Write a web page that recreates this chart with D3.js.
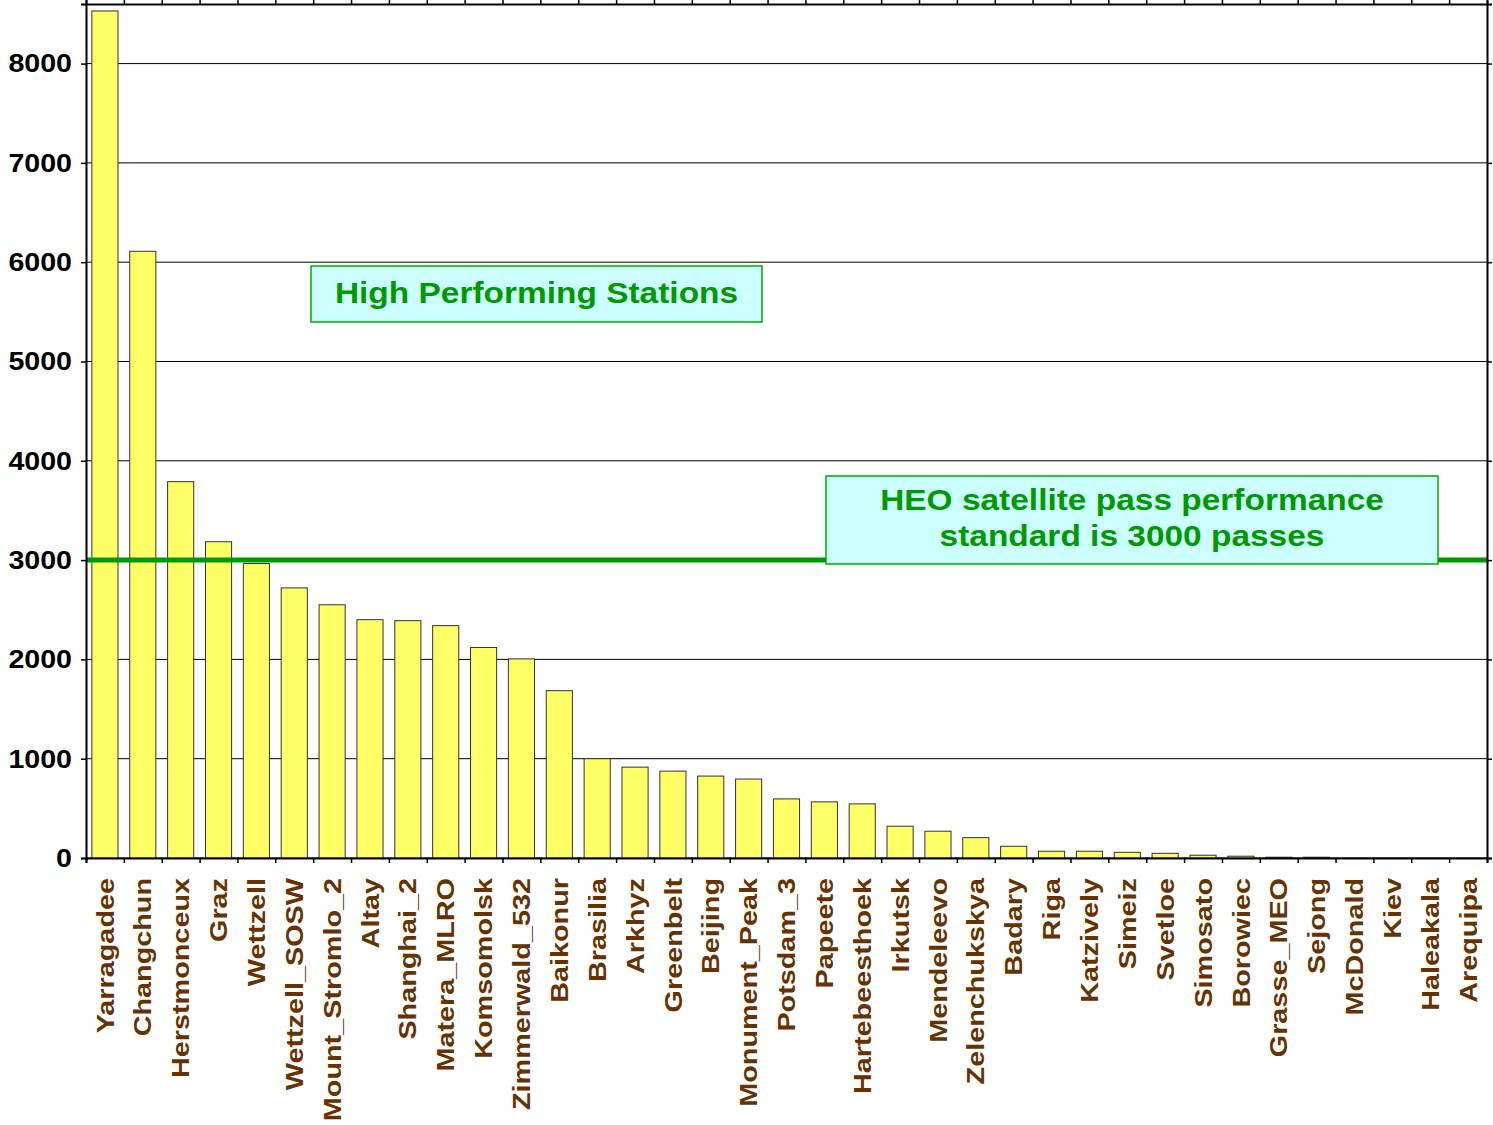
<!DOCTYPE html>
<html>
<head>
<meta charset="utf-8">
<script src="https://cdn.jsdelivr.net/npm/d3@7"></script>
<style>
  body { margin: 0; background: #fff; }
  svg { display: block; font-family: "Liberation Sans", Arial, Helvetica, sans-serif; }
</style>
</head>
<body>
<div id="container"></div>
<script>
/* DATA */
const stations = ["Yarragadee","Changchun","Herstmonceux","Graz","Wettzell","Wettzell_SOSW",
  "Mount_Stromlo_2","Altay","Shanghai_2","Matera_MLRO","Komsomolsk","Zimmerwald_532",
  "Baikonur","Brasilia","Arkhyz","Greenbelt","Beijing","Monument_Peak","Potsdam_3",
  "Papeete","Hartebeesthoek","Irkutsk","Mendeleevo","Zelenchukskya","Badary","Riga",
  "Katzively","Simeiz","Svetloe","Simosato","Borowiec","Grasse_MEO","Sejong","McDonald",
  "Kiev","Haleakala","Arequipa"];
const passes = [8530, 6110, 3790, 3185, 2965, 2720,
  2550, 2400, 2390, 2340, 2120, 2005,
  1685, 1000, 915, 875, 825, 795, 595,
  565, 545, 320, 270, 205, 118, 68,
  68, 57, 47, 28, 18, 8, 8, 0,
  0, 0, 0];
const yTicks = [0, 1000, 2000, 3000, 4000, 5000, 6000, 7000, 8000];
const standard = 3000;

/* CONSTANTS */
const W = 1493, H = 1125;
const margin = {left: 86, top: 4, right: 6, bottom: 267};
const width = W - margin.left - margin.right,
      height = H - margin.top - margin.bottom;

const svg = d3.select("#container").append("svg")
  .attr("width", W)
  .attr("height", H);

const g = svg.append("g").attr("transform", `translate(${margin.left},${margin.top})`);

/* SCALES */
const xScale = d3.scaleBand()
  .domain(stations)
  .range([0, width])
  .paddingInner(0.31)
  .paddingOuter(0.155);

const xEdges = d3.scaleLinear().domain([0, stations.length]).range([0, width]);

const yScale = d3.scaleLinear()
  .domain([0, 8600])
  .range([height, 0]);

// gridlines
g.append("g")
  .selectAll("line")
  .data(yTicks)
  .join("line")
  .attr("x1", 0).attr("x2", width)
  .attr("y1", d => yScale(d)).attr("y2", d => yScale(d))
  .attr("stroke", "#000")
  .attr("stroke-width", 1);

// bars
g.selectAll("rect.bar")
  .data(stations.map((s, i) => ({name: s, value: passes[i]})))
  .join("rect")
  .attr("class", "bar")
  .attr("x", d => xScale(d.name))
  .attr("y", d => yScale(d.value))
  .attr("width", xScale.bandwidth())
  .attr("height", d => height - yScale(d.value))
  .attr("fill", "#ffff66")
  .attr("stroke", d => d.value > 0 ? "#333" : "none")
  .attr("stroke-width", 1);

// standard line
g.append("line")
  .attr("x1", 0).attr("x2", width)
  .attr("y1", yScale(standard)).attr("y2", yScale(standard))
  .attr("stroke", "#009900")
  .attr("stroke-width", 5);

// axes
const edgeTicks = d3.range(stations.length + 1);

const yAxis = d3.axisLeft(yScale).tickValues(yTicks).tickFormat(d3.format("d")).tickSize(5).tickPadding(8);
const yAxisR = d3.axisRight(yScale).tickValues(yTicks).tickSize(5).tickFormat("");
const xAxisB = d3.axisBottom(xEdges).tickValues(edgeTicks).tickSize(5).tickFormat("");
const xAxisT = d3.axisTop(xEdges).tickValues(edgeTicks).tickSize(5).tickFormat("");

const styleAxis = sel => {
  sel.selectAll("path.domain").attr("stroke", "#000").attr("stroke-width", 2);
  sel.selectAll(".tick line").attr("stroke", "#000").attr("stroke-width", 1.5);
};

const gy = g.append("g").call(yAxis).call(styleAxis);
gy.selectAll("text")
  .attr("x", null)
  .attr("transform", "translate(-14,0) scale(1.1,1)")
  .attr("fill", "#000")
  .style("font-size", "26px")
  .style("font-weight", "bold");

g.append("g").attr("transform", `translate(${width},0)`).call(yAxisR).call(styleAxis);
g.append("g").attr("transform", `translate(0,${height})`).call(xAxisB).call(styleAxis);
g.append("g").call(xAxisT).call(styleAxis);

// category labels (glyphs are wide in the original, so stretch along the text)
g.append("g")
  .selectAll("text")
  .data(stations)
  .join("text")
  .attr("transform", d => `translate(${xScale(d) + xScale.bandwidth() / 2},${height + 20}) rotate(-90) scale(1.2,1)`)
  .attr("text-anchor", "end")
  .attr("dy", "0.36em")
  .attr("fill", "#663300")
  .style("font-size", "24px")
  .style("font-weight", "bold")
  .text(d => d);

// annotation boxes
function noteBox(x, y, w, h, lines, lineGap, shift) {
  const box = svg.append("g");
  box.append("rect")
    .attr("x", x).attr("y", y).attr("width", w).attr("height", h)
    .attr("fill", "#ccffff")
    .attr("stroke", "#00aa00")
    .attr("stroke-width", 1.5);
  const startY = y + h / 2 - (lines.length - 1) * lineGap / 2 + shift;
  box.selectAll("text")
    .data(lines)
    .join("text")
    .attr("transform", (d, i) => `translate(${x + w / 2},${startY + i * lineGap}) scale(1.115,1)`)
    .attr("dy", "0.36em")
    .attr("text-anchor", "middle")
    .attr("fill", "#009900")
    .style("font-size", "30px")
    .style("font-weight", "bold")
    .text(d => d);
}

noteBox(311, 266, 451, 56, ["High Performing Stations"], 0, -2);
noteBox(826, 476, 612, 88, ["HEO satellite pass performance", "standard is 3000 passes"], 36, -3);
</script>
</body>
</html>
